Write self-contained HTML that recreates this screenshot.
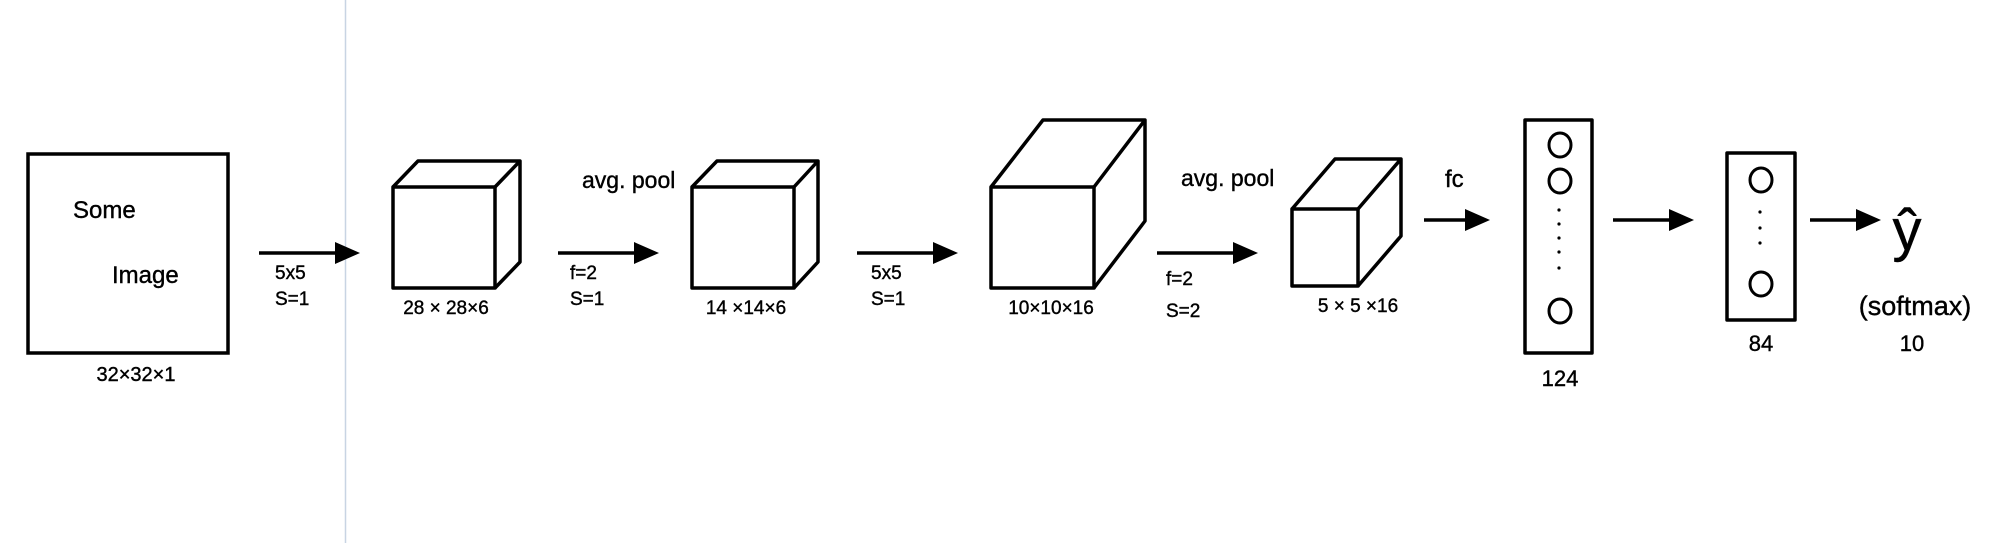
<!DOCTYPE html>
<html><head><meta charset="utf-8"><style>
html,body{margin:0;padding:0;background:#fff;}
svg{display:block;}
text{font-family:"Liberation Sans",sans-serif;fill:#000;stroke:#000;stroke-width:0.4;}
</style></head><body>
<svg width="2005" height="543" viewBox="0 0 2005 543">
<line x1="345.5" y1="0" x2="345.5" y2="543" stroke="#c8d4e3" stroke-width="1.5"/>

<g fill="none" stroke="#000" stroke-width="3.5">
<rect x="28" y="154" width="200" height="199"/>
</g>
<text x="73" y="218" font-size="24">Some</text>
<text x="112" y="283" font-size="24">Image</text>
<text x="136" y="381" font-size="20" text-anchor="middle">32×32×1</text>

<g stroke="#000" stroke-width="3.5" fill="none" stroke-linejoin="round">
<g>
<rect x="393" y="187" width="102" height="101"/>
<path d="M393 187 L418 161 L520 161 L520 262 L495 288 M495 187 L520 161"/>
</g>
<g>
<rect x="692" y="187" width="102" height="101"/>
<path d="M692 187 L717 161 L818 161 L818 262 L794 288 M794 187 L818 161"/>
</g>
<g>
<rect x="991" y="187" width="103" height="101"/>
<path d="M991 187 L1043 120 L1145 120 L1145 221 L1094 288 M1094 187 L1145 120"/>
</g>
<g>
<rect x="1292" y="209" width="66" height="77"/>
<path d="M1292 209 L1335 159 L1401 159 L1401 236 L1358 286 M1358 209 L1401 159"/>
</g>
<rect x="1525" y="120" width="67" height="233"/>
<rect x="1727" y="153" width="68" height="167"/>
</g>

<g stroke="#000" stroke-width="3" fill="none">
<ellipse cx="1560" cy="145" rx="11" ry="12"/>
<ellipse cx="1560" cy="181" rx="11" ry="12"/>
<ellipse cx="1560" cy="311" rx="11" ry="12"/>
<ellipse cx="1761" cy="180" rx="11" ry="12"/>
<ellipse cx="1761" cy="284" rx="11" ry="12"/>
</g>
<g fill="#000">
<circle cx="1559" cy="210" r="1.6"/><circle cx="1559" cy="224" r="1.6"/><circle cx="1559" cy="238" r="1.6"/><circle cx="1559" cy="252" r="1.6"/><circle cx="1559" cy="268" r="1.6"/>
<circle cx="1760" cy="212" r="1.6"/><circle cx="1760" cy="228" r="1.6"/><circle cx="1760" cy="243" r="1.6"/>
</g>

<g>
<g><line x1="259" y1="253" x2="336" y2="253" stroke="#000" stroke-width="3.5"/><path d="M335 242 L360 253 L335 264 Z"/></g>
<g><line x1="558" y1="253" x2="635" y2="253" stroke="#000" stroke-width="3.5"/><path d="M634 242 L659 253 L634 264 Z"/></g>
<g><line x1="857" y1="253" x2="934" y2="253" stroke="#000" stroke-width="3.5"/><path d="M933 242 L958 253 L933 264 Z"/></g>
<g><line x1="1157" y1="253" x2="1234" y2="253" stroke="#000" stroke-width="3.5"/><path d="M1233 242 L1258 253 L1233 264 Z"/></g>
<g><line x1="1424" y1="220" x2="1466" y2="220" stroke="#000" stroke-width="3.5"/><path d="M1465 209 L1490 220 L1465 231 Z"/></g>
<g><line x1="1613" y1="220" x2="1670" y2="220" stroke="#000" stroke-width="3.5"/><path d="M1669 209 L1694 220 L1669 231 Z"/></g>
<g><line x1="1810" y1="220" x2="1857" y2="220" stroke="#000" stroke-width="3.5"/><path d="M1856 209 L1881 220 L1856 231 Z"/></g>
</g>

<g font-size="19">
<text x="275" y="279">5x5</text>
<text x="275" y="305">S=1</text>
<text x="446" y="314" text-anchor="middle">28 × 28×6</text>
<text x="582" y="188" font-size="23">avg. pool</text>
<text x="570" y="279">f=2</text>
<text x="570" y="305">S=1</text>
<text x="746" y="314" text-anchor="middle">14 ×14×6</text>
<text x="871" y="279">5x5</text>
<text x="871" y="305">S=1</text>
<text x="1051" y="314" text-anchor="middle">10×10×16</text>
<text x="1181" y="186" font-size="23">avg. pool</text>
<text x="1166" y="285">f=2</text>
<text x="1166" y="317">S=2</text>
<text x="1358" y="312" text-anchor="middle">5 × 5 ×16</text>
<text x="1445" y="187" font-size="24">fc</text>
<text x="1560" y="386" text-anchor="middle" font-size="22">124</text>
<text x="1761" y="351" text-anchor="middle" font-size="22">84</text>
<text x="1907" y="250" text-anchor="middle" font-size="58">ŷ</text>
<text x="1915" y="315" text-anchor="middle" font-size="27">(softmax)</text>
<text x="1912" y="351" text-anchor="middle" font-size="22">10</text>
</g>
</svg>
</body></html>
